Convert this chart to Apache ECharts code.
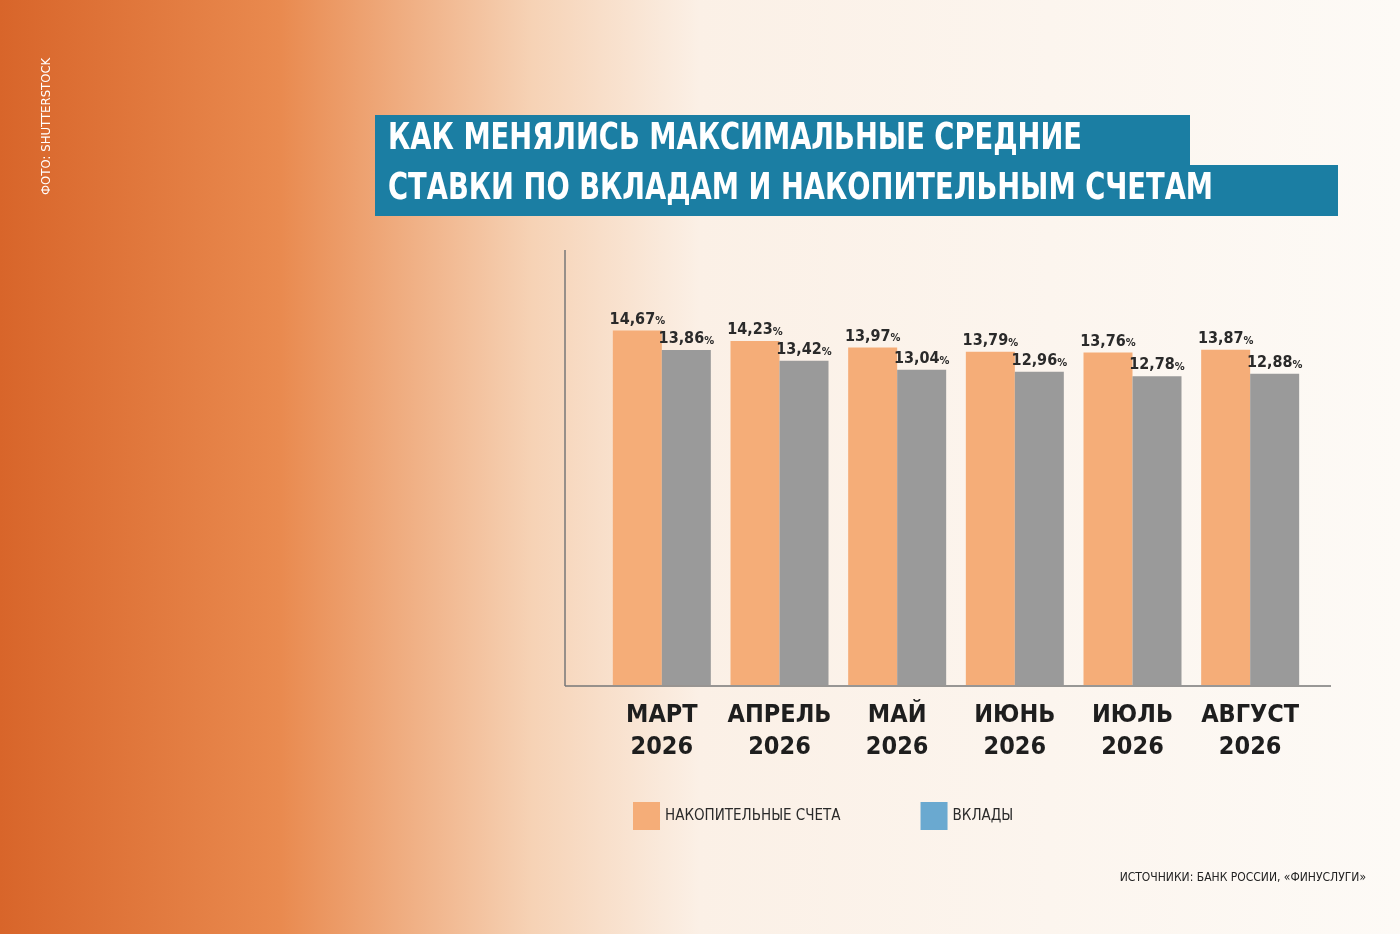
<!DOCTYPE html>
<html><head><meta charset="utf-8">
<script src="https://cdn.jsdelivr.net/npm/echarts@6/dist/echarts.min.js"></script>
<style>html,body{margin:0;padding:0}#c{width:1400px;height:934px}</style>
</head><body><div id="c"></div>
<script>
const categories = ['МАРТ\n2026','АПРЕЛЬ\n2026','МАЙ\n2026','ИЮНЬ\n2026','ИЮЛЬ\n2026','АВГУСТ\n2026'];
const savings = [14.67, 14.23, 13.97, 13.79, 13.76, 13.87];
const deposits = [13.86, 13.42, 13.04, 12.96, 12.78, 12.88];
const seriesNames = ['НАКОПИТЕЛЬНЫЕ СЧЕТА', 'ВКЛАДЫ'];
const F = "'Liberation Sans Narrow','DejaVu Sans Condensed','Roboto Condensed',sans-serif";
const chart = echarts.init(document.getElementById('c'));
const lbl = {
  show: true, position: 'top', distance: 3,
  formatter: p => '{v|' + p.value.toFixed(2).replace('.', ',') + '}{p|%}',
  rich: { v: {fontFamily: F, fontSize: 16, fontWeight: 'bold', color: '#2a2a2a'},
          p: {fontFamily: F, fontSize: 11, fontWeight: 'bold', color: '#2a2a2a', padding:[4,0,0,0]} }
};
chart.setOption({
  backgroundColor: {type:'linear', x:0, y:0, x2:1, y2:0, colorStops:[
    {offset:0, color:'#d8652a'}, {offset:0.2, color:'#e98a4f'}, {offset:0.38, color:'#f6d2b5'},
    {offset:0.5, color:'#fbf0e6'}, {offset:1, color:'#fdfaf6'}]},
  grid: {left: 603, right: 91, top: 250, bottom: 249},
  xAxis: {type:'category', data: categories,
    axisLine:{show:false}, axisTick:{show:false},
    axisLabel:{interval:0, fontFamily:F, fontSize:25, fontWeight:'bold', color:'#1e1e1e', lineHeight:32, margin:14}},
  yAxis: {type:'value', min:0, max:18, interval:3,
    axisLine:{show:false}, axisTick:{show:false}, axisLabel:{show:false},
    splitLine:{show:false}},
  legend: {left: 628, top: 797, itemWidth: 27, itemHeight: 28, itemGap: 80, icon:'rect',
    textStyle:{fontFamily:F, fontSize:15, color:'#2a2a2a'},
    data:[{name:seriesNames[0], itemStyle:{color:'#f5ad78'}}, {name:seriesNames[1], itemStyle:{color:'#6aa9d0'}}]},
  series: [
    {name: seriesNames[0], type:'bar', data: savings, barWidth: 49, barGap: '0%',
     itemStyle:{color:'#f5ad78'}, label: lbl},
    {name: seriesNames[1], type:'bar', data: deposits, barWidth: 49,
     itemStyle:{color:'#9a9a9a'}, label: lbl}
  ],
  graphic: [
    {type:'line', shape:{x1:565, y1:250, x2:565, y2:686}, style:{stroke:'#777', lineWidth:1.5}},
    {type:'line', shape:{x1:565, y1:686, x2:1331, y2:686}, style:{stroke:'#777', lineWidth:1.5}},
    {type:'rect', shape:{x:375, y:115, width:815, height:52}, style:{fill:'#1b7ea3'}},
    {type:'rect', shape:{x:375, y:165, width:963, height:51}, style:{fill:'#1b7ea3'}},
    {type:'text', x:388, y:120, scaleX:0.8, style:{text:'КАК МЕНЯЛИСЬ МАКСИМАЛЬНЫЕ СРЕДНИЕ', font:"bold 38px "+F, fill:'#fff'}},
    {type:'text', x:388, y:170, scaleX:0.8, style:{text:'СТАВКИ ПО ВКЛАДАМ И НАКОПИТЕЛЬНЫМ СЧЕТАМ', font:"bold 38px "+F, fill:'#fff'}},
    {type:'text', right:34, top:872, style:{text:'ИСТОЧНИКИ: БАНК РОССИИ, «ФИНУСЛУГИ»', font:"12px "+F, fill:'#222'}},
    {type:'text', x:40, y:195, rotation:Math.PI/2, style:{text:'ФОТО: SHUTTERSTOCK', font:"13px "+F, fill:'#fff'}}
  ]
});
</script></body></html>
